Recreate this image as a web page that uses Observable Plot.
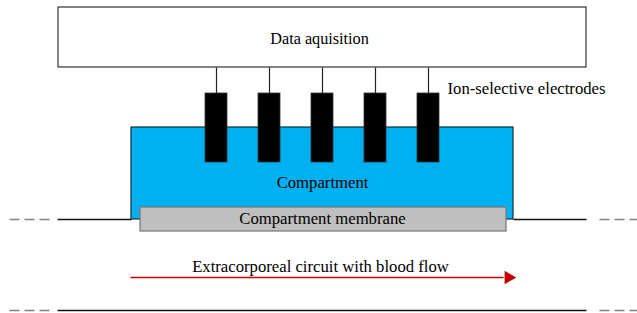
<!DOCTYPE html>
<html>
<head>
<meta charset="utf-8">
<script src="https://cdn.jsdelivr.net/npm/d3@7"></script>
<script src="https://cdn.jsdelivr.net/npm/@observablehq/plot@0.6"></script>
</head>
<body style="margin:0">
<div id="chart"></div>
<script>
// Diagram geometry (in pixel-like units of a 637 x 313 canvas)
const boxes = [
  {name: "Data aquisition", x1: 58, x2: 586, y1: 7, y2: 67, fill: "#ffffff", stroke: "#333333"},
  {name: "Compartment", x1: 131, x2: 513, y1: 127, y2: 219, fill: "#00B0F0", stroke: "#1a2a33"},
  {name: "Compartment membrane", x1: 140, x2: 506, y1: 207, y2: 231, fill: "#BFBFBF", stroke: "#777777"}
];
const electrodeCenters = [216, 269, 322, 375, 428];
const electrodeTop = 93, electrodeBottom = 162, electrodeHalfWidth = 11;
const circuitLinesY = [219, 310];
const solidSegments = [
  {x1: 57, x2: 131, y: 219}, {x1: 513, x2: 586, y: 219},
  {x1: 57, x2: 586, y: 310}
];
const dashedSegments = [
  {x1: 9, x2: 50}, {x1: 599, x2: 637}
];
const labelTexts = ["Data aquisition", "Ion-selective electrodes", "Compartment", "Compartment membrane", "Extracorporeal circuit with blood flow"];
const labelX = [319, 447, 322, 322, 320];
const labelY = [38, 88, 182, 218, 266];
const labelAnchor = ["middle", "start", "middle", "middle", "middle"];
const labelSize = [16.2, 16.7, 16.7, 16.7, 16.7];
const flowArrow = {x1: 130, x2: 503, tip: 512, y: 277};

const electrodes = electrodeCenters.map(c => ({c, x1: c - electrodeHalfWidth, x2: c + electrodeHalfWidth}));
const dashes = circuitLinesY.flatMap(y => dashedSegments.map(d => ({...d, y})));
const labels = labelTexts.map((text, i) => ({text, x: labelX[i], y: labelY[i], anchor: labelAnchor[i], size: labelSize[i]}));

const textMark = (d) => Plot.text([d.text], {x: d.x, y: d.y, text: t => t, textAnchor: d.anchor, lineAnchor: "middle", fontSize: d.size, fontFamily: "Liberation Serif", fill: "#000"});

const chart = Plot.plot({
  width: 637,
  height: 313,
  margin: 0,
  x: {domain: [0, 637], axis: null},
  y: {domain: [0, 313], axis: null, reverse: true},
  marks: [
    Plot.link(solidSegments, {x1: "x1", x2: "x2", y1: "y", y2: "y", stroke: "#111", strokeWidth: 1.3}),
    Plot.link(dashes, {x1: "x1", x2: "x2", y1: "y", y2: "y", stroke: "#808080", strokeWidth: 1.3, strokeDasharray: "10,5"}),
    Plot.rect(boxes.slice(0, 2), {x1: "x1", x2: "x2", y1: "y1", y2: "y2", fill: "fill", stroke: "stroke", strokeWidth: 1.2}),
    Plot.link(electrodes, {x1: "c", x2: "c", y1: 67, y2: electrodeTop, stroke: "#222", strokeWidth: 1.2}),
    Plot.rect(electrodes, {x1: "x1", x2: "x2", y1: electrodeTop, y2: electrodeBottom, fill: "#000", stroke: "#333", strokeWidth: 0.8}),
    Plot.rect(boxes.slice(2), {x1: "x1", x2: "x2", y1: "y1", y2: "y2", fill: "fill", stroke: "stroke", strokeWidth: 1.2}),
    Plot.link([flowArrow], {x1: "x1", x2: "x2", y1: "y", y2: "y", stroke: "#C00000", strokeWidth: 1.5}),
    Plot.dot([flowArrow], {x: d => d.tip - 4, y: "y", symbol: "triangle", rotate: 90, r: 5, fill: "#C00000", stroke: "none"}),
    ...labels.map(textMark)
  ]
});
document.getElementById("chart").appendChild(chart);
</script>
</body>
</html>
